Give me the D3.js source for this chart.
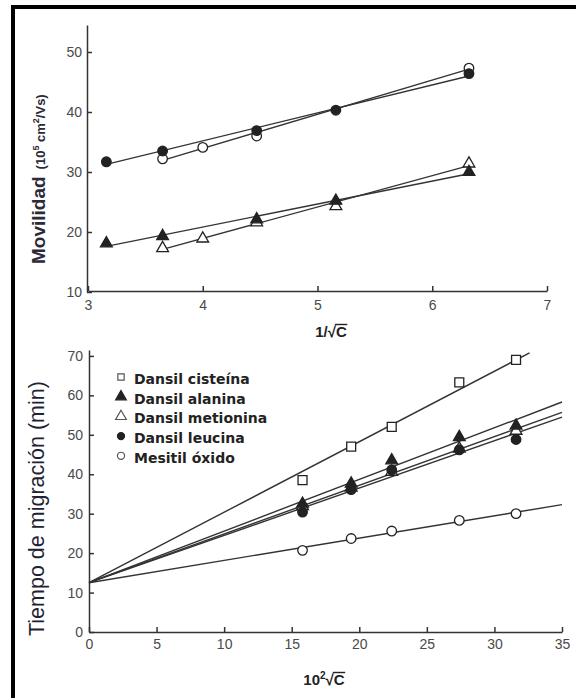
<!DOCTYPE html>
<html>
<head>
<meta charset="utf-8">
<style>
  body { margin: 0; background: white; }
  svg { display: block; }
  .tick text { font-family: "Liberation Sans", Arial, sans-serif; font-size: 14px; fill: #4a4a4a; }
  .tick line, .domain { stroke: #333; stroke-width: 1.5; }
  .legend text { font-family: "DejaVu Sans", Verdana, sans-serif; font-weight: bold; font-size: 14px; fill: #222; }
</style>
<script src="https://cdn.jsdelivr.net/npm/d3@7"></script>
</head>
<body>
<script>
// ---- top panel: mobility vs 1/sqrt(C)
let invC = [3.16, 3.65, 4.47, 5.16, 6.32]
let invC2 = [3.65, 4.0, 4.47, 5.16, 6.32]
let invC3 = [3.65, 4.0, 4.47, 6.32]
let leucinaMob = [31.7, 33.5, 36.9, 40.3, 46.4]
let alaninaMob = [18.1, 19.3, 22.1, 25.2, 30.0]
let metioninaMob = [17.3, 18.9, 21.6, 24.3, 31.4]
let mesitilMob = [32.2, 34.1, 36.0, 47.3]
let topXTicks = [3, 4, 5, 6, 7]
let topYTicks = [10, 20, 30, 40, 50]

// ---- bottom panel: migration time vs 10^2 sqrt(C)
let sqrtC = [15.8, 19.4, 22.4, 27.4, 31.6]
let cisteinaT = [38.5, 47.0, 52.0, 63.3, 69.0]
let alaninaT = [32.5, 37.6, 43.5, 49.4, 52.3]
let metioninaT = [31.9, 36.6, 40.6, 46.5, 51.0]
let leucinaT = [30.4, 36.1, 41.1, 46.2, 48.8]
let mesitilT = [20.7, 23.7, 25.6, 28.3, 30.0]
let t0 = 12.5  // common intercept of the fitted lines
let lineEnd = [32.6, 35, 35, 35, 35]
let botXTicks = [0, 5, 10, 15, 20, 25, 30, 35]
let botYTicks = [0, 10, 20, 30, 40, 50, 60, 70]

let legendNames = ["Dansil cisteína", "Dansil alanina", "Dansil metionina", "Dansil leucina", "Mesitil óxido"]

let svg = d3.select("body").append("svg").attr("width", 576).attr("height", 698)
svg.append("rect").attr("width", 576).attr("height", 698).attr("fill", "white")
svg.append("rect").attr("x", 11).attr("y", 5).attr("width", 565).attr("height", 4).attr("fill", "#000")
svg.append("rect").attr("x", 11).attr("y", 5).attr("width", 4).attr("height", 693).attr("fill", "#000")

let ink = "#222"
let lineInk = "#333"

function fit(xs, ys) {
  let mx = d3.mean(xs), my = d3.mean(ys)
  let b = d3.sum(xs, (x, i) => (x - mx) * (ys[i] - my)) / d3.sum(xs, x => (x - mx) * (x - mx))
  return { a: my - b * mx, b: b }
}
function fitFixed(xs, ys, a) {
  let b = d3.sum(xs, (x, i) => x * (ys[i] - a)) / d3.sum(xs, x => x * x)
  return { a: a, b: b }
}

let shapes = {
  square: d3.symbol().type(d3.symbolSquare),
  triangle: d3.symbol().type(d3.symbolTriangle),
  circle: d3.symbol().type(d3.symbolCircle)
}

function marks(g, xs, ys, x, y, shape, filled, size) {
  g.selectAll(null).data(xs).enter().append("path")
    .attr("d", shapes[shape].size(size)())
    .attr("transform", (d, i) => `translate(${x(d)},${y(ys[i])})`)
    .attr("fill", filled ? ink : "white")
    .attr("stroke", ink)
    .attr("stroke-width", 1.3)
}

function fitLine(g, f, x0, x1, x, y) {
  g.append("line")
    .attr("x1", x(x0)).attr("y1", y(f.a + f.b * x0))
    .attr("x2", x(x1)).attr("y2", y(f.a + f.b * x1))
    .attr("stroke", lineInk).attr("stroke-width", 1.4)
}

// ================= top panel
let x1 = d3.scaleLinear().domain([3, 7]).range([88, 547])
let y1 = d3.scaleLinear().domain([10, 54.5]).range([292, 25])

svg.append("g").attr("transform", "translate(0,291)")
  .call(d3.axisBottom(x1).tickValues(topXTicks).tickFormat(d3.format("d"))
    .tickSizeInner(-5).tickSizeOuter(0).tickPadding(9))
svg.append("g").attr("transform", "translate(87,0)")
  .call(d3.axisLeft(y1).tickValues(topYTicks).tickFormat(d3.format("d"))
    .tickSizeInner(-5).tickSizeOuter(0).tickPadding(5))

let topG = svg.append("g")
fitLine(topG, fit(invC3, mesitilMob), d3.min(invC3), d3.max(invC3), x1, y1)
fitLine(topG, fit(invC, leucinaMob), d3.min(invC), d3.max(invC), x1, y1)
fitLine(topG, fit(invC2, metioninaMob), d3.min(invC2), d3.max(invC2), x1, y1)
fitLine(topG, fit(invC, alaninaMob), d3.min(invC), d3.max(invC), x1, y1)
marks(topG, invC3, mesitilMob, x1, y1, "circle", false, 72)
marks(topG, invC, leucinaMob, x1, y1, "circle", true, 72)
marks(topG, invC2, metioninaMob, x1, y1, "triangle", false, 60)
marks(topG, invC, alaninaMob, x1, y1, "triangle", true, 60)

// y title (top)
let yt1 = svg.append("text").attr("transform", "translate(45,264) rotate(-90)")
  .attr("font-family", "Liberation Sans, Arial, sans-serif").attr("font-weight", "bold").attr("fill", "#2a2a38")
yt1.append("tspan").attr("font-size", 19).text("Movilidad")
yt1.append("tspan").attr("font-size", 13).attr("dx", 7).text("(10")
yt1.append("tspan").attr("font-size", 9).attr("dy", -6).text("5")
yt1.append("tspan").attr("font-size", 13).attr("dy", 6).text(" cm")
yt1.append("tspan").attr("font-size", 9).attr("dy", -6).text("2")
yt1.append("tspan").attr("font-size", 13).attr("dy", 6).text("/Vs)")

// x titles with a root sign and overline on C
function rootTitle(parts, cx, baseline, supIdx) {
  let t = svg.append("text").attr("y", baseline)
    .attr("font-family", "Liberation Sans, Arial, sans-serif").attr("font-weight", "bold")
    .attr("font-size", 15).attr("fill", "#222")
  parts.forEach((p, i) => {
    let s = t.append("tspan").text(p)
    if (i === supIdx) s.attr("font-size", 10).attr("dy", -6)
    if (i === supIdx + 1 && supIdx >= 0) s.attr("dy", 6)
  })
  let n = t.node()
  let total = n.getComputedTextLength()
  let x0 = cx - total / 2
  t.attr("x", x0)
  let chars = parts.join("").length
  let cStart = n.getSubStringLength(0, chars - 1)
  svg.append("line")
    .attr("x1", x0 + cStart - 1).attr("x2", x0 + total + 0.5)
    .attr("y1", baseline - 12.5).attr("y2", baseline - 12.5)
    .attr("stroke", "#222").attr("stroke-width", 1.4)
}
rootTitle(["1/√", "C"], 331, 337, -1)

// ================= bottom panel
let x2 = d3.scaleLinear().domain([0, 35]).range([89, 562])
let y2 = d3.scaleLinear().domain([0, 71.5]).range([632, 350])

svg.append("g").attr("transform", "translate(0,632)")
  .call(d3.axisBottom(x2).tickValues(botXTicks).tickSizeInner(-5).tickSizeOuter(0).tickPadding(7))
svg.append("g").attr("transform", "translate(89,0)")
  .call(d3.axisLeft(y2).tickValues(botYTicks).tickSizeInner(-5).tickSizeOuter(0).tickPadding(6))

let botG = svg.append("g")
let botSeries = [cisteinaT, alaninaT, metioninaT, leucinaT, mesitilT]
botSeries.forEach((ys, i) => fitLine(botG, fitFixed(sqrtC, ys, t0), 0, lineEnd[i], x2, y2))
marks(botG, sqrtC, cisteinaT, x2, y2, "square", false, 80)
marks(botG, sqrtC, mesitilT, x2, y2, "circle", false, 72)
marks(botG, sqrtC, metioninaT, x2, y2, "triangle", false, 60)
marks(botG, sqrtC, leucinaT, x2, y2, "circle", true, 72)
marks(botG, sqrtC, alaninaT, x2, y2, "triangle", true, 60)

// y title (bottom)
svg.append("text").attr("transform", "translate(44,636) rotate(-90)")
  .attr("font-family", "Liberation Sans, Arial, sans-serif").attr("font-size", 21.5)
  .attr("fill", "#1e2233").text("Tiempo de migración (min)")

rootTitle(["10", "2", "√", "C"], 324, 685, 1)

// legend
let legendShapes = ["square", "triangle", "triangle", "circle", "circle"]
let legendFilled = [false, true, false, true, false]
let lg = svg.append("g").attr("class", "legend")
legendNames.forEach((name, i) => {
  let cy = 379 + i * 19.7
  lg.append("path")
    .attr("d", shapes[legendShapes[i]].size(legendShapes[i] === "triangle" ? 50 : 40)())
    .attr("transform", `translate(121,${cy - 2})`)
    .attr("fill", legendFilled[i] ? ink : "white")
    .attr("stroke", legendFilled[i] ? ink : "#555").attr("stroke-width", 1.2)
  lg.append("text").attr("x", 134).attr("y", cy + 5).text(name)
})
</script>
</body>
</html>
